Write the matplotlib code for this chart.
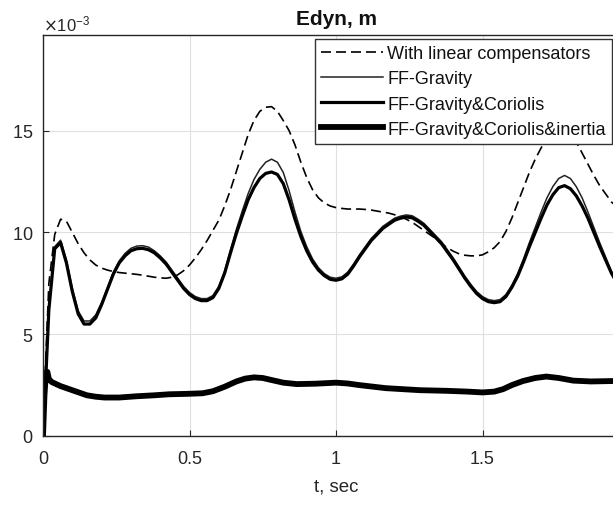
import matplotlib
matplotlib.use("Agg")
import matplotlib.pyplot as plt
import numpy as np

plt.rcParams['font.family'] = ['Liberation Sans', 'DejaVu Sans']

# values in units of 1e-3 m
t_grid = [0, 0.005, 0.01, 0.02, 0.04, 0.06, 0.08, 0.10, 0.12, 0.14, 0.16, 0.18, 0.20,
          0.22, 0.24, 0.26, 0.28, 0.30, 0.32, 0.34, 0.36, 0.38, 0.40, 0.42, 0.44, 0.46,
          0.48, 0.50, 0.52, 0.54, 0.56, 0.58, 0.60, 0.62, 0.64, 0.66, 0.68, 0.70, 0.72,
          0.74, 0.76, 0.78, 0.80, 0.82, 0.84, 0.86, 0.88, 0.90, 0.92, 0.94, 0.96, 0.98,
          1.00, 1.02, 1.04, 1.06, 1.08, 1.10, 1.12, 1.14, 1.16, 1.18, 1.20, 1.22, 1.24,
          1.26, 1.28, 1.30, 1.32, 1.34, 1.36, 1.38, 1.40, 1.42, 1.44, 1.46, 1.48, 1.50,
          1.52, 1.54, 1.56, 1.58, 1.60, 1.62, 1.64, 1.66, 1.68, 1.70, 1.72, 1.74, 1.76,
          1.78, 1.80, 1.82, 1.84, 1.86, 1.88, 1.90, 1.92, 1.94, 1.96, 1.98, 2.00]

e_lin = [0, 2.0, 4.0, 7.5, 9.9, 10.65, 10.55, 10.0, 9.45, 9.0, 8.65, 8.4, 8.25,
         8.15, 8.08, 8.03, 8.0, 7.97, 7.94, 7.9, 7.85, 7.8, 7.77, 7.75, 7.8, 7.92,
         8.12, 8.4, 8.75, 9.15, 9.6, 10.1, 10.6, 11.3, 12.1, 13.0, 13.9, 14.8, 15.5,
         15.95, 16.15, 16.18, 15.95, 15.5, 15.0, 14.3, 13.45, 12.7, 12.1, 11.7, 11.45, 11.3,
         11.22, 11.18, 11.15, 11.15, 11.15, 11.13, 11.1, 11.05, 11.0, 10.95, 10.87, 10.77, 10.65,
         10.5, 10.3, 10.1, 9.9, 9.7, 9.45, 9.25, 9.08, 8.95, 8.88, 8.85, 8.85, 8.9,
         9.05, 9.25, 9.55, 10.05, 10.7, 11.45, 12.2, 12.95, 13.6, 14.15, 14.65, 15.05, 15.3,
         15.35, 15.0, 14.45, 13.9, 13.35, 12.8, 12.3, 11.9, 11.5, 11.25, 11.05, 10.9]

e_grav = [0, 1.5, 3.0, 6.3, 9.3, 9.62, 8.65, 7.25, 6.15, 5.65, 5.65, 5.95, 6.55,
          7.3, 8.05, 8.6, 8.97, 9.22, 9.33, 9.35, 9.28, 9.1, 8.85, 8.55, 8.15, 7.75,
          7.35, 7.05, 6.85, 6.75, 6.75, 6.9, 7.35, 8.1, 9.15, 10.15, 11.05, 11.9, 12.6,
          13.1, 13.45, 13.6, 13.45, 12.95, 12.05, 11.0, 10.05, 9.3, 8.7, 8.27, 7.98, 7.8,
          7.75, 7.82, 8.05, 8.45, 8.9, 9.3, 9.7, 10.0, 10.3, 10.5, 10.7, 10.8, 10.86,
          10.82, 10.65, 10.45, 10.15, 9.85, 9.55, 9.15, 8.75, 8.3, 7.85, 7.45, 7.1, 6.85,
          6.7, 6.65, 6.7, 6.95, 7.4, 7.98, 8.7, 9.5, 10.25, 11.0, 11.7, 12.25, 12.65,
          12.8, 12.65, 12.25, 11.7, 11.0, 10.25, 9.5, 8.8, 8.1, 7.6, 7.15, 6.75]

e_gc = [0, 1.5, 3.0, 6.2, 9.2, 9.5, 8.5, 7.1, 6.0, 5.5, 5.5, 5.8, 6.45,
        7.2, 7.95, 8.5, 8.85, 9.1, 9.2, 9.22, 9.15, 9.0, 8.75, 8.45, 8.05, 7.65,
        7.25, 6.95, 6.75, 6.65, 6.65, 6.8, 7.25, 8.0, 9.0, 9.95, 10.8, 11.6, 12.2,
        12.65, 12.9, 12.97, 12.85, 12.4, 11.6, 10.65, 9.8, 9.1, 8.55, 8.15, 7.88, 7.7,
        7.65, 7.72, 7.95, 8.35, 8.8, 9.2, 9.6, 9.9, 10.2, 10.4, 10.6, 10.7, 10.76,
        10.72, 10.55, 10.35, 10.05, 9.75, 9.45, 9.05, 8.65, 8.2, 7.75, 7.35, 7.0, 6.75,
        6.6, 6.55, 6.6, 6.85, 7.3, 7.85, 8.55, 9.3, 10.0, 10.7, 11.35, 11.85, 12.2,
        12.3, 12.15, 11.8, 11.3, 10.7, 10.0, 9.3, 8.65, 8.0, 7.5, 7.1, 6.7]

t_inr = [0, 0.005, 0.01, 0.015, 0.02, 0.03, 0.06, 0.09, 0.12, 0.15, 0.18, 0.21, 0.26,
         0.317, 0.38, 0.431, 0.49, 0.545, 0.58, 0.62, 0.66, 0.69, 0.72, 0.75, 0.78, 0.82,
         0.866, 0.93, 1.0, 1.04, 1.08, 1.17, 1.287, 1.377, 1.45, 1.5, 1.54, 1.57, 1.60,
         1.638, 1.68, 1.718, 1.76, 1.81, 1.87, 1.945, 2.0]
e_inr = [0, 2.0, 3.1, 3.15, 2.8, 2.65, 2.45, 2.3, 2.15, 2.0, 1.93, 1.89, 1.89,
         1.95, 2.0, 2.05, 2.07, 2.1, 2.2, 2.42, 2.68, 2.82, 2.88, 2.85, 2.75, 2.62,
         2.55, 2.57, 2.62, 2.58, 2.5, 2.35, 2.25, 2.22, 2.18, 2.14, 2.18, 2.3, 2.5,
         2.7, 2.85, 2.92, 2.85, 2.72, 2.68, 2.7, 2.7]

labels = ['With linear compensators', 'FF-Gravity', 'FF-Gravity&Coriolis',
          'FF-Gravity&Coriolis&inertia']

fig = plt.figure(figsize=(6.13, 5.06), dpi=100)
ax = fig.add_axes([43/613, 69/506, 586/613, 401/506])

sc = 1e-3
ax.plot(t_grid, np.array(e_lin)*sc, color='k', lw=1.2, ls=(0, (6, 3)), label=labels[0])
ax.plot(t_grid, np.array(e_grav)*sc, color='#222222', lw=1.1, label=labels[1])
ax.plot(t_grid, np.array(e_gc)*sc, color='k', lw=2.3, label=labels[2])
ax.plot(t_inr, np.array(e_inr)*sc, color='k', lw=4.2, label=labels[3])

ax.set_xlim(0, 2)
ax.set_ylim(0, 0.0197)
ax.set_xticks([0, 0.5, 1, 1.5, 2])
ax.set_xticklabels(['0', '0.5', '1', '1.5', ''])
ax.set_yticks([0, 0.005, 0.010, 0.015])
ax.ticklabel_format(axis='y', style='sci', scilimits=(-3, -3), useMathText=True)
ax.yaxis.get_offset_text().set_fontsize(12)
ax.yaxis.get_offset_text().set_color('#262626')
ax.grid(True, color='#e0e0e0', lw=0.8)
ax.set_axisbelow(True)
ax.tick_params(direction='in', length=4, labelsize=13, colors='#262626')
ax.tick_params(axis='x', pad=10)
ax.tick_params(axis='y', pad=7)
for s in ax.spines.values():
    s.set_color('#262626')
    s.set_linewidth(1.0)

ax.set_title('Edyn, m', fontsize=15, fontweight='bold', color='#111111', pad=8)
ax.set_xlabel('t, sec', fontsize=13.5, color='#262626', labelpad=8)

leg = ax.legend(loc='upper right', bbox_to_anchor=(0.971, 0.990), borderaxespad=0,
                fontsize=13, handlelength=3.4, handletextpad=0.25, labelspacing=0.45,
                borderpad=0.35, fancybox=False, framealpha=1, edgecolor='#333333')
leg.get_frame().set_linewidth(1.0)
for txt in leg.get_texts():
    txt.set_color('#111111')

fig.savefig('out.png', dpi=100)
